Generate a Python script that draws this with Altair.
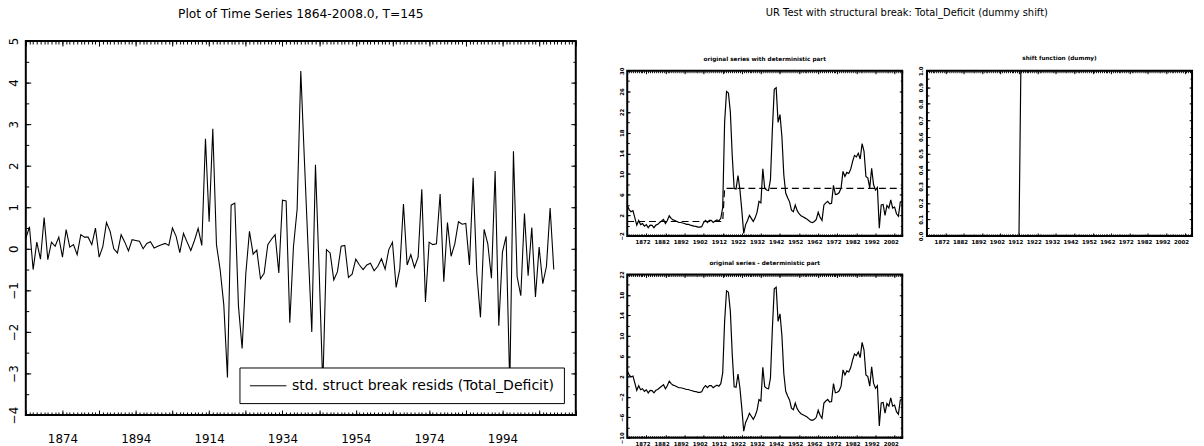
import altair as alt
import pandas as pd

FONT = "DejaVu Sans"

# ---------------- data ----------------
years = list(range(1864, 2009))  # T = 145

# standardized structural-break residuals (left panel)
resid = [
    0.25, 0.53, -0.5, 0.16, -0.25, 0.75, -0.26, 0.16, 0.06, 0.28,      # 1864-1873
    -0.2, 0.46, 0.04, 0.1, -0.14, 0.34, 0.28, 0.28, 0.1, 0.5,          # 1874-1883
    -0.2, 0.05, 0.63, 0.42, 0.0, -0.1, 0.34, 0.16, -0.05, 0.22,        # 1884-1893
    0.2, 0.18, 0.0, 0.13, 0.17, 0.02, 0.06, 0.1, 0.13, 0.08,           # 1894-1903
    0.5, 0.3, -0.09, 0.37, 0.16, -0.04, 0.2, 0.49, 0.08,               # 1904-1912
    2.65, 0.65, 2.89, 0.1, -0.5, -1.35, -3.1, 1.05, 1.1, -1.38,        # 1913-1922
    -2.4, -0.6, 0.42, -0.13, -0.03, -0.72, -0.59, 0.1, 0.23, 0.34,     # 1923-1932
    -0.58, 1.17, 1.15, -1.78, 0.05, 0.95, 4.28, 2.1, 0.0, -2.0,        # 1933-1942
    2.02, -0.5, -3.3, -0.02, -0.1, -0.75, -0.55, 0.06, 0.08, -0.69,    # 1943-1952
    -0.61, -0.25, -0.39, -0.5, -0.39, -0.35, -0.53, -0.42, -0.24, -0.49,  # 1953-1962
    -0.02, 0.16, -0.93, -0.49, 1.08, -0.39, -0.14, -0.45, -0.2, 1.43,  # 1963-1972
    -1.28, 0.16, 0.1, 0.12, 1.32, -0.79, 0.63, -0.18, 0.12, 0.65,      # 1973-1982
    0.59, 0.61, -0.39, 1.71, -0.57, -1.65, 0.47, 0.12, -0.71, 1.87,    # 1983-1992
    -1.85, -0.08, 0.3, -3.3, 2.35, -0.67, -1.13, 0.85, -0.65, 0.51,    # 1993-2002
    -1.16, 0.04, -0.84, -0.42, 0.98, -0.5,                             # 2003-2008
]

# original series Total_Deficit
orig = [
    3.95, 3.1, 2.7, 2.9, 1.5, 0.1, 1.0, 0.2, 0.4, -0.1,        # 1864-1873
    0.2, -0.4, 0.1, 0.05, -0.4, 0.1, 0.25, 0.6, 0.9, 1.2,      # 1874-1883
    0.4, 1.0, 1.9, 1.4, 1.1, 1.0, 0.8, 0.6, 0.6, 0.5,          # 1884-1893
    0.4, 0.25, 0.25, 0.1, 0.0, -0.1, -0.15, -0.3, -0.3, -0.2,  # 1894-1903
    0.6, 1.0, 0.6, 1.0, 1.0, 0.6, 0.9, 1.1, 0.9, 1.4,          # 1904-1913
    3.5, 20.0, 26.0, 25.7, 22.0, 13.5, 7.2, 7.1, 9.7, 7.0,     # 1914-1923
    3.0, -1.5, 0.2, 1.0, 2.0, 1.4, 0.8, 1.5, 2.6, 4.7,         # 1924-1933
    4.4, 11.0, 7.2, 6.9, 6.8, 8.9, 18.5, 26.4, 26.7, 20.0,     # 1934-1943
    21.5, 17.2, 9.8, 6.3, 5.4, 4.6, 3.0, 2.7, 4.0, 2.9,        # 1944-1953
    2.3, 1.9, 1.7, 1.5, 1.3, 1.0, 0.7, 0.6, 0.8, 1.2,          # 1954-1963
    2.6, 1.6, 1.0, 4.0, 4.4, 4.7, 4.2, 4.3, 7.8, 6.0,          # 1964-1973
    6.1, 6.4, 7.3, 10.5, 9.5, 10.3, 10.1, 10.9, 12.4, 13.6,    # 1974-1983
    13.3, 14.0, 12.9, 15.9, 14.4, 9.5, 9.2, 7.3, 11.1, 7.9,    # 1984-1993
    6.9, 7.4, -0.5, 4.0, 4.1, 2.0, 3.9, 3.4, 5.0, 3.4,         # 1994-2003
    3.6, 2.3, 1.8, 4.6, 4.7,                                   # 2004-2008
]

# shift dummy: 0 through 1914, 1 from 1915
shift = [0] * 51 + [1] * 94
mu_pre = 0.8      # level before the break
mu_shift = 6.4    # size of the level shift

left_title = "Plot of Time Series 1864-2008.0, T=145"
right_title = "UR Test with structural break: Total_Deficit (dummy shift)"
legend_label = "std. struct break resids (Total_Deficit)"
p1_title = "original series with deterministic part"
p2_title = "shift function (dummy)"
p3_title = "original series - deterministic part"

left_x_labels = [1874, 1894, 1914, 1934, 1954, 1974, 1994]
left_y_labels = [-4, -3, -2, -1, 0, 1, 2, 3, 4, 5]
sub_x_labels = [1872, 1882, 1892, 1902, 1912, 1922, 1932, 1942, 1952, 1962, 1972, 1982, 1992, 2002]
p1_y_labels = [-2, 2, 6, 10, 14, 18, 22, 26, 30]
p2_y_labels = [0.0, 0.1, 0.2, 0.3, 0.4, 0.5, 0.6, 0.7, 0.8, 0.9, 1.0]
p3_y_labels = [-10, -6, -2, 2, 6, 10, 14, 18, 22]

df = pd.DataFrame({"year": years, "resid": resid, "orig": orig, "shift": shift})
df["det"] = mu_pre + mu_shift * df["shift"]
df["detr"] = df["orig"] - df["det"]
df["series"] = legend_label


# ---------------- helpers ----------------
def tick_axis(orient, values, size):
    return alt.Axis(orient=orient, values=values, offset=-size, tickSize=size,
                    tickWidth=1, tickColor="black", labels=False, domain=False,
                    grid=False, title=None)


def ghost_layers(yfield, xscale, yscale, x_minor, x_major, y_minor, y_major, s_min, s_maj):
    def ghost(xa, ya):
        return alt.Chart(df).mark_line(opacity=0).encode(
            x=alt.X("year:Q", scale=xscale, axis=xa),
            y=alt.Y(f"{yfield}:Q", scale=yscale, axis=ya),
        )
    return [
        ghost(tick_axis("bottom", x_minor, s_min), tick_axis("left", y_minor, s_min)),
        ghost(tick_axis("top", x_minor, s_min), tick_axis("right", y_minor, s_min)),
        ghost(tick_axis("bottom", x_major, s_maj), tick_axis("left", y_major, s_maj)),
        ghost(tick_axis("top", x_major, s_maj), tick_axis("right", y_major, s_maj)),
    ]


def x_label_axis(values, size, pad, bold):
    return alt.Axis(orient="bottom", values=values, format="d", ticks=False, tickSize=0,
                    domain=False, grid=False, title=None, labelFont=FONT,
                    labelFontSize=size, labelFontWeight="bold" if bold else "normal",
                    labelPadding=pad, labelBaseline="top", labelColor="black",
                    labelFlush=False, labelOverlap=False)


def y_label_axis(values, size, pad, bold, fmt):
    return alt.Axis(orient="left", values=values, format=fmt, ticks=False, tickSize=0,
                    domain=False, grid=False, title=None, labelFont=FONT,
                    labelFontSize=size, labelFontWeight="bold" if bold else "normal",
                    labelPadding=pad, labelAngle=270, labelAlign="center",
                    labelBaseline="bottom", labelColor="black",
                    labelFlush=False, labelOverlap=False)


def sub_title(text):
    return alt.TitleParams(text, fontSize=5.8, fontWeight="bold", font=FONT,
                           anchor="middle", frame="group", offset=5, color="black")


# ---------------- left panel ----------------
lx = alt.Scale(domain=[1864, 2014], nice=False, zero=False)
ly = alt.Scale(domain=[-4, 5], nice=False, zero=False)

legend = alt.Legend(title=None, orient="bottom-right", offset=12, padding=10,
                    strokeColor="black", fillColor="white",
                    symbolType="M-1,0H3.625", symbolSize=256, symbolStrokeWidth=1,
                    symbolStrokeColor="black", labelFont=FONT, labelFontSize=14.2,
                    labelColor="black", labelOffset=26, labelLimit=500, cornerRadius=0)

left_line = alt.Chart(df).mark_line(strokeWidth=1.1).encode(
    x=alt.X("year:Q", scale=lx, axis=x_label_axis(left_x_labels, 12, 19, False)),
    y=alt.Y("resid:Q", scale=ly, axis=y_label_axis(left_y_labels, 12, 5, False, "d")),
    color=alt.Color("series:N", scale=alt.Scale(range=["black"]), legend=legend),
)

left = alt.layer(
    left_line,
    *ghost_layers("resid", lx, ly,
                  list(range(1864, 2015)), list(range(1864, 2015, 10)),
                  [v / 2 for v in range(-8, 11)], left_y_labels, 3, 5),
).properties(
    width=556, height=378,
    title=alt.TitleParams(left_title, fontSize=12.4, font=FONT, fontWeight="normal",
                          anchor="middle", frame="group", offset=17, color="black"),
).resolve_axis(x="independent", y="independent")

# ---------------- right panels ----------------
sx = alt.Scale(domain=[1864, 2008], nice=False, zero=False)
sub_minor_x = list(range(1864, 2009))
sub_major_x = list(range(1864, 2009, 10))

# panel 1: original series with deterministic part
p1y = alt.Scale(domain=[-2, 30], nice=False, zero=False)
p1_line = alt.Chart(df).mark_line(color="black", strokeWidth=1.2).encode(
    x=alt.X("year:Q", scale=sx, axis=x_label_axis(sub_x_labels, 5.5, 4, True)),
    y=alt.Y("orig:Q", scale=p1y, axis=y_label_axis(p1_y_labels, 5.5, 3, True, "d")),
)
p1_det = alt.Chart(df).mark_line(color="black", strokeWidth=1.2, strokeDash=[7, 4]).encode(
    x=alt.X("year:Q", scale=sx, axis=None),
    y=alt.Y("det:Q", scale=p1y, axis=None),
)
p1 = alt.layer(
    p1_line, p1_det,
    *ghost_layers("orig", sx, p1y, sub_minor_x, sub_major_x,
                  list(range(-2, 31, 2)), p1_y_labels, 2, 3),
).properties(width=278, height=167, title=sub_title(p1_title)
).resolve_axis(x="independent", y="independent")

# panel 2: shift function
p2y = alt.Scale(domain=[0, 1], nice=False, zero=False)
p2_line = alt.Chart(df).mark_line(color="black", strokeWidth=1.2).encode(
    x=alt.X("year:Q", scale=sx, axis=x_label_axis(sub_x_labels, 5.5, 4, True)),
    y=alt.Y("shift:Q", scale=p2y, axis=y_label_axis(p2_y_labels, 5.5, 3, True, ".1f")),
)
p2 = alt.layer(
    p2_line,
    *ghost_layers("shift", sx, p2y, sub_minor_x, sub_major_x,
                  [round(i * 0.05, 2) for i in range(21)], p2_y_labels, 2, 3),
).properties(width=268, height=167, title=sub_title(p2_title)
).resolve_axis(x="independent", y="independent")

# panel 3: original series minus deterministic part
p3y = alt.Scale(domain=[-10, 22], nice=False, zero=False)
p3_line = alt.Chart(df).mark_line(color="black", strokeWidth=1.2).encode(
    x=alt.X("year:Q", scale=sx, axis=x_label_axis(sub_x_labels, 5.5, 4, True)),
    y=alt.Y("detr:Q", scale=p3y, axis=y_label_axis(p3_y_labels, 5.5, 3, True, "d")),
)
p3 = alt.layer(
    p3_line,
    *ghost_layers("detr", sx, p3y, sub_minor_x, sub_major_x,
                  list(range(-10, 23, 2)), p3_y_labels, 2, 3),
).properties(width=278, height=165, title=sub_title(p3_title)
).resolve_axis(x="independent", y="independent")

# invisible 1px view: anchors the right block's origin above panel 1
spacer = alt.Chart(df).mark_point(opacity=0).encode(
    x=alt.X("year:Q", axis=None),
    y=alt.Y("resid:Q", axis=None),
).properties(width=1, height=1, view=alt.ViewBackground(stroke="transparent", strokeWidth=0))

row1 = alt.hconcat(p1, p2, spacing=12)
inner = alt.vconcat(row1, p3, spacing=12)
right = alt.vconcat(
    spacer, inner, spacing=9,
    title=alt.TitleParams(right_title, fontSize=10, font=FONT, fontWeight="normal",
                          anchor="middle", offset=21, color="black"),
)

chart = alt.concat(left, right, columns=2, spacing=41, align="none").resolve_scale(
    color="independent"
).properties(
    padding={"top": -4, "left": -2, "right": 0, "bottom": 0}, background="white"
).configure_view(
    stroke="black", strokeWidth=2
).configure_axis(
    labelColor="black", tickColor="black"
)

chart.save("out.html", embed_options={"renderer": "svg", "actions": False})
